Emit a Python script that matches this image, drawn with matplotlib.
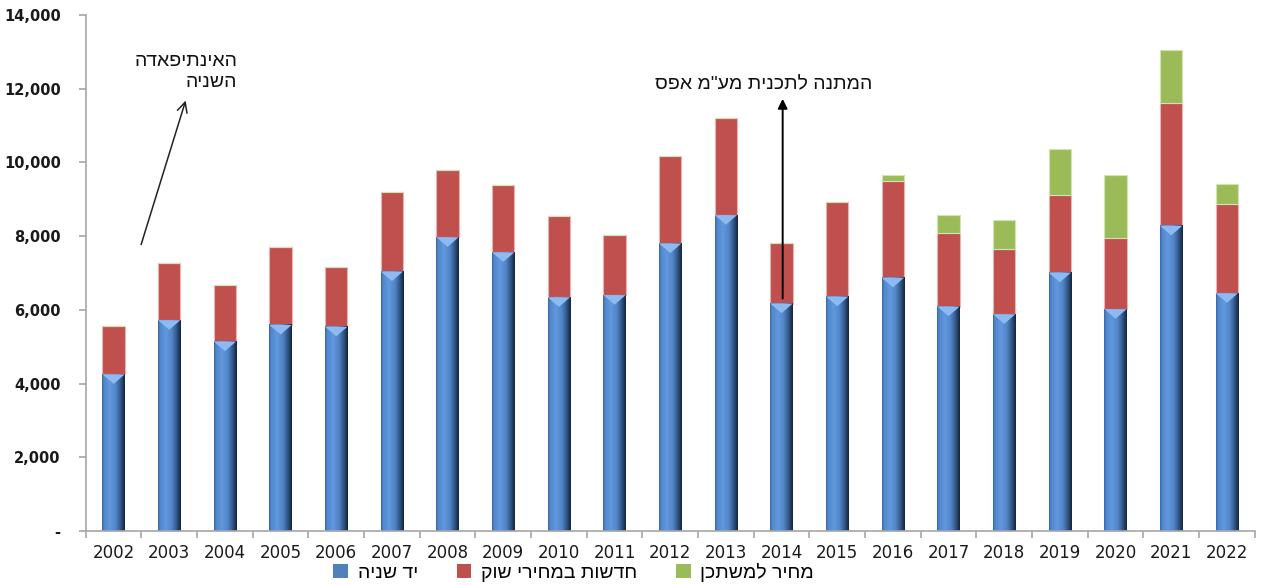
import numpy as np
import matplotlib
matplotlib.use("Agg")
import matplotlib.pyplot as plt
from matplotlib.colors import LinearSegmentedColormap
from matplotlib.patches import Polygon, Patch
from matplotlib.ticker import FuncFormatter, FixedLocator

# ---- data -------------------------------------------------------------
years = [str(y) for y in range(2002, 2023)]
second_hand = [4250, 5720, 5140, 5590, 5540, 7040, 7970, 7560, 6340, 6400, 7800,
               8570, 6170, 6360, 6870, 6090, 5880, 7010, 6020, 8280, 6450]
new_market = [1300, 1560, 1530, 2110, 1620, 2150, 1830, 1830, 2200, 1640, 2370,
              2640, 1650, 2560, 2630, 1990, 1780, 2110, 1940, 3320, 2420]
price_target = [0, 0, 0, 0, 0, 0, 0, 0, 0, 0, 0,
                0, 0, 0, 150, 500, 770, 1240, 1690, 1450, 550]

series_names = ["יד שניה", "חדשות במחירי שוק", "מחיר למשתכן"]
note_intifada = ["האינתיפאדה", "השניה"]
note_zero_vat = 'המתנה לתכנית מע"מ אפס'

y_ticks = [0, 2000, 4000, 6000, 8000, 10000, 12000, 14000]


def visual(s):
    """Hebrew text in visual (left-to-right) order for plain rendering."""
    return s[::-1]


# ---- style ------------------------------------------------------------
plt.rcParams["font.family"] = ["DejaVu Sans"]
heb_font = ["Liberation Sans", "DejaVu Sans"]
blue = "#4F81BD"
red = "#C0504D"
green = "#9BBB59"
axis_grey = "#A6A6A6"

cyl = LinearSegmentedColormap.from_list(
    "cyl",
    [(0.0, "#3A66A0"), (0.08, "#5087CC"), (0.35, "#6198DE"), (0.6, "#5286C8"),
     (0.82, "#325787"), (1.0, "#14243C")])

fig = plt.figure(figsize=(12.61, 5.85), dpi=100)
ax = fig.add_axes([0.068, 0.0923, 0.927, 0.8821])

x = np.arange(len(years))
w = 0.4
sh = np.array(second_hand, dtype=float)
nm = np.array(new_market, dtype=float)
pt = np.array(price_target, dtype=float)

bars_sh = ax.bar(x, sh, width=w, color=blue, linewidth=0, zorder=2)
ax.bar(x, nm, width=w, bottom=sh, color=red, edgecolor="#E9B3B1",
       linewidth=0.8, zorder=2)
ax.bar(x, pt, width=w, bottom=sh + nm, color=green, edgecolor="#D3E4B4",
       linewidth=0.8, zorder=2)

# cylinder shading and light chevron on the second-hand bars
grad = np.linspace(0, 1, 64).reshape(1, -1)
ymax = 14000
chev = 260
for b in bars_sh:
    x0, bw, h = b.get_x(), b.get_width(), b.get_height()
    ax.imshow(grad, extent=[x0, x0 + bw, 0, h], aspect="auto", cmap=cyl,
              origin="lower", zorder=2.5, interpolation="bilinear")
    ax.add_patch(Polygon([(x0, h), (x0 + bw, h), (x0 + bw / 2, h - chev)],
                         closed=True, facecolor="#8DBAF0", edgecolor="none",
                         zorder=2.6))

ax.set_xlim(-0.5, len(years) - 0.5)
ax.set_ylim(0, ymax)

# ---- axes -------------------------------------------------------------
for side in ("top", "right"):
    ax.spines[side].set_visible(False)
for side in ("left", "bottom"):
    ax.spines[side].set_color(axis_grey)
    ax.spines[side].set_linewidth(1.2)

ax.set_yticks(y_ticks)
ax.yaxis.set_major_formatter(
    FuncFormatter(lambda v, p: "-" if v == 0 else f"{v:,.0f}"))
ax.tick_params(axis="y", length=5, width=1.2, color=axis_grey, pad=13,
               labelsize=10.5, labelcolor="#1a1a1a")
for lab in ax.get_yticklabels():
    lab.set_fontweight("bold")

ax.set_xticks(x)
ax.set_xticklabels(years)
ax.tick_params(axis="x", which="major", length=0, pad=9, labelsize=12,
               labelcolor="#1a1a1a")
ax.xaxis.set_minor_locator(FixedLocator(np.arange(-0.5, len(years), 1.0)))
ax.tick_params(axis="x", which="minor", length=5, width=1.2, color=axis_grey)

# ---- annotations ------------------------------------------------------
ax.annotate("", xy=(1.31, 11750), xytext=(0.48, 7700),
            arrowprops=dict(arrowstyle="->", color="#222222", lw=1.1,
                            mutation_scale=18), zorder=5)
ax.text(2.22, 12450, "\n".join(visual(s) for s in note_intifada),
        ha="right", va="center", multialignment="right",
        fontsize=14, family=heb_font, color="#111111", linespacing=1.25)

ax.annotate("", xy=(12.02, 11800), xytext=(12.02, 6230),
            arrowprops=dict(arrowstyle="-|>", color="black", lw=1.4,
                            mutation_scale=14), zorder=5)
ax.text(11.68, 12120, visual(note_zero_vat), ha="center", va="center",
        fontsize=14, family=heb_font, color="#111111")

# ---- legend -----------------------------------------------------------
handles = [Patch(facecolor=c, edgecolor="none") for c in (blue, red, green)]
leg = fig.legend(handles, [visual(s) for s in series_names], loc="center",
                 bbox_to_anchor=(0.455, 0.022), ncol=3, frameon=False,
                 prop={"family": heb_font, "size": 14},
                 handlelength=0.75, handleheight=0.75, handletextpad=0.5,
                 columnspacing=2.0)

fig.savefig("out.png", dpi=100)
